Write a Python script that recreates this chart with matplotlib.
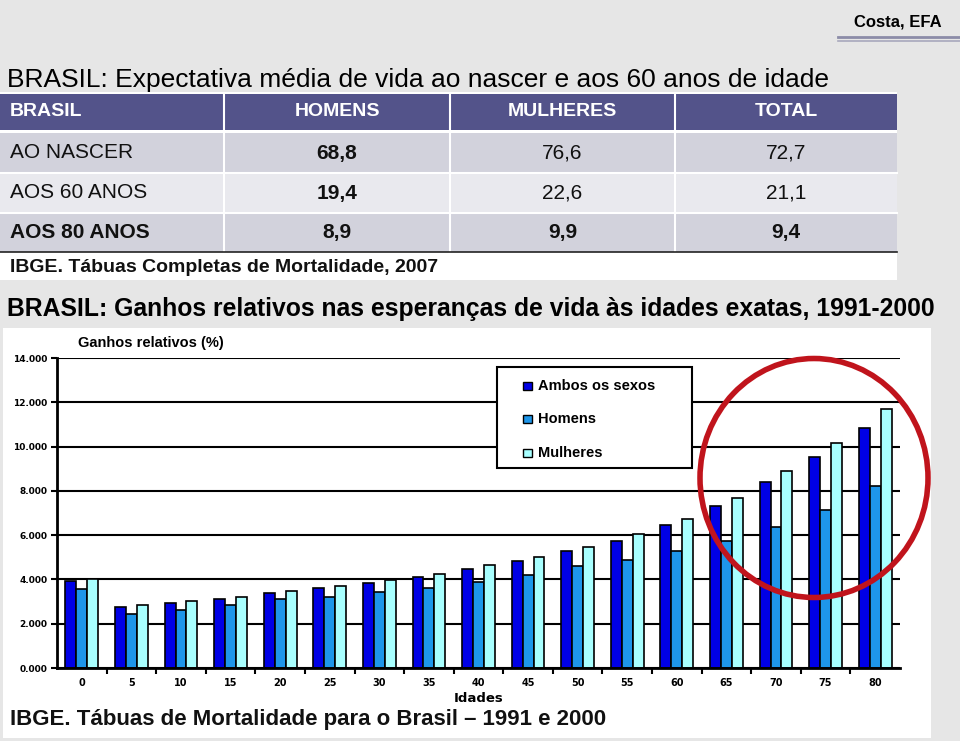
import numpy as np
import matplotlib.pyplot as plt
from matplotlib.patches import Rectangle, Ellipse

# Dados do grafico (ganhos relativos, %)
idades = [0, 5, 10, 15, 20, 25, 30, 35, 40, 45, 50, 55, 60, 65, 70, 75, 80]
ambos = [3.93, 2.76, 2.94, 3.12, 3.39, 3.62, 3.85, 4.11, 4.47, 4.83, 5.30, 5.75, 6.45, 7.30, 8.40, 9.55, 10.85]
homens = [3.57, 2.44, 2.62, 2.84, 3.10, 3.21, 3.43, 3.61, 3.90, 4.20, 4.60, 4.90, 5.30, 5.75, 6.35, 7.15, 8.20]
mulheres = [4.02, 2.84, 3.03, 3.21, 3.48, 3.70, 3.97, 4.25, 4.65, 5.00, 5.45, 6.05, 6.75, 7.70, 8.90, 10.15, 11.70]
series_nomes = ['Ambos os sexos', 'Homens', 'Mulheres']

# Dados da tabela
tab_colunas = ['BRASIL', 'HOMENS', 'MULHERES', 'TOTAL']
tab_linhas = ['AO NASCER', 'AOS 60 ANOS', 'AOS 80 ANOS']
tab_homens = ['68,8', '19,4', '8,9']
tab_mulheres = ['76,6', '22,6', '9,9']
tab_total = ['72,7', '21,1', '9,4']

W, H = 960, 741
cores = ['#0000E6', '#1E96EA', '#A8FFFF']
arial = ['Liberation Sans', 'DejaVu Sans']

fig = plt.figure(figsize=(W / 100, H / 100), dpi=100)
fig.patch.set_facecolor('#E6E6E6')

# fundo em pixels
bg = fig.add_axes([0, 0, 1, 1])
bg.set_xlim(0, W)
bg.set_ylim(H, 0)
bg.axis('off')

# area da tabela
bg.add_patch(Rectangle((0, 92), 897, 188, fc='white', ec='none'))
col_x = [0, 224, 450, 675, 897]
row_y = [133, 173, 213, 252]
bg.add_patch(Rectangle((0, 94), 897, 36, fc='#53538A', ec='none'))
for i in range(3):
    bg.add_patch(Rectangle((0, row_y[i]), 897, row_y[i + 1] - row_y[i],
                           fc='#D2D2DC' if i != 1 else '#E9E9EE', ec='none'))
for x in col_x[1:-1]:
    bg.plot([x, x], [94, 252], color='white', lw=1.5)
for y in row_y[1:3]:
    bg.plot([0, 897], [y, y], color='white', lw=1.5)
bg.plot([0, 897], [252, 252], color='#222222', lw=1.2)

# cabecalho e celulas
centros = [(col_x[i] + col_x[i + 1]) / 2 for i in range(4)]
bg.text(10, 112, tab_colunas[0], color='white', fontsize=14, fontweight='bold',
        family=arial, va='center')
for j in range(1, 4):
    bg.text(centros[j], 112, tab_colunas[j], color='white', fontsize=14,
            fontweight='bold', family=arial, va='center', ha='center')
for i in range(3):
    yc = (row_y[i] + row_y[i + 1]) / 2
    peso = 'bold' if i == 2 else 'normal'
    bg.text(10, yc, tab_linhas[i], fontsize=15, fontweight=peso, family=arial,
            va='center', color='#111111')
    bg.text(centros[1], yc, tab_homens[i], fontsize=15, fontweight='bold',
            family=arial, va='center', ha='center', color='#111111')
    bg.text(centros[2], yc, tab_mulheres[i], fontsize=15, fontweight=peso,
            family=arial, va='center', ha='center', color='#111111')
    bg.text(centros[3], yc, tab_total[i], fontsize=15, fontweight=peso,
            family=arial, va='center', ha='center', color='#111111')
bg.text(10, 268, 'IBGE. Tábuas Completas de Mortalidade, 2007', fontsize=14,
        fontweight='bold', family=arial, va='center', color='#111111')

# titulos
bg.text(942, 22, 'Costa, EFA', fontsize=12, fontweight='bold', family=arial,
        ha='right', va='center')
bg.plot([838, 960], [37, 37], color='#8C8CA8', lw=2)
bg.plot([838, 960], [40.5, 40.5], color='#A8A8BC', lw=1.2)
bg.text(7, 80, 'BRASIL: Expectativa média de vida ao nascer e aos 60 anos de idade',
        fontsize=19, family=arial, va='center')
bg.text(7, 309, 'BRASIL: Ganhos relativos nas esperanças de vida às idades exatas, 1991-2000',
        fontsize=17.8, fontweight='bold', family=arial, va='center')

# area branca do grafico
bg.add_patch(Rectangle((3, 328), 928, 410, fc='white', ec='none'))
bg.text(151, 343, 'Ganhos relativos (%)', fontsize=10.5, fontweight='bold',
        family=arial, ha='center', va='center')
bg.text(10, 720, 'IBGE. Tábuas de Mortalidade para o Brasil – 1991 e 2000',
        fontsize=16, fontweight='bold', family=arial, va='center', color='#111111')

# grafico de barras
x0, x1, y0, y1 = 57, 900, 358, 668
ax = fig.add_axes([x0 / W, (H - y1) / H, (x1 - x0) / W, (y1 - y0) / H])
ax.set_facecolor('none')
pos = np.arange(len(idades))
larg = 0.22
for k, vals in enumerate([ambos, homens, mulheres]):
    ax.bar(pos + (k - 1) * larg, vals, larg, color=cores[k], edgecolor='black',
           linewidth=1.2, zorder=3, label=series_nomes[k])
ax.set_xlim(-0.5, len(idades) - 0.5)
ax.set_ylim(0, 14)
ax.set_yticks(np.arange(0, 15, 2))
ax.set_yticklabels(['%.3f' % v for v in np.arange(0, 15, 2)], fontsize=6.5,
                   fontweight='bold')
ax.set_xticks(pos)
ax.set_xticklabels([str(i) for i in idades], fontsize=7, fontweight='bold')
ax.set_xticks(pos[:-1] + 0.5, minor=True)
ax.tick_params(axis='x', which='major', length=0, pad=7)
ax.tick_params(axis='x', which='minor', length=4, width=1.5)
ax.tick_params(axis='y', length=4, width=1.5, pad=3)
ax.grid(axis='y', color='black', lw=1.5, zorder=0)
for s in ['top', 'right']:
    ax.spines[s].set_visible(False)
for s in ['left', 'bottom']:
    ax.spines[s].set_linewidth(2)
    ax.spines[s].set_zorder(4)
ax.set_xlabel('Idades', fontsize=9.5, fontweight='bold', labelpad=3)

# legenda e circulo por cima
fg = fig.add_axes([0, 0, 1, 1])
fg.set_xlim(0, W)
fg.set_ylim(H, 0)
fg.axis('off')
fg.add_patch(Rectangle((497, 367), 195, 101, fc='white', ec='black', lw=1.5))
for k, yl in enumerate([386, 419, 453]):
    fg.add_patch(Rectangle((523, yl - 4), 9, 8, fc=cores[k], ec='black', lw=1))
    fg.text(538, yl, series_nomes[k], fontsize=10.5, fontweight='bold',
            family=arial, va='center')
fg.add_patch(Ellipse((814, 478), 228, 239, fc='none', ec='#C0141C', lw=4))

fig.savefig('out.png', dpi=100)
